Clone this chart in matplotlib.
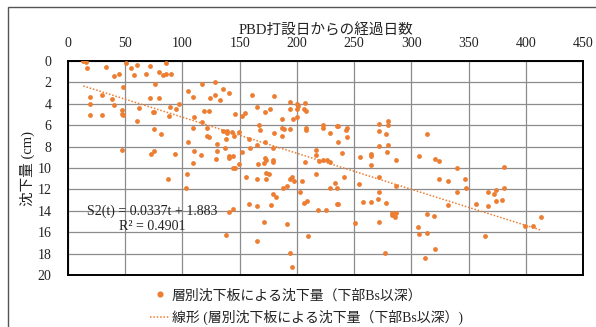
import matplotlib
matplotlib.use("Agg")
import matplotlib.pyplot as plt
from matplotlib.lines import Line2D
from matplotlib.patches import Rectangle
from matplotlib.font_manager import FontProperties

# 経過日数 (日) と 沈下量 (cm)
days = [
    13.4, 15.7, 16.3, 32.8, 40.1, 44.2, 50.9, 54.9, 59.9, 58.1, 68.0, 71.8, 79.9, 83.1,
    86.0, 90.1, 85.8, 48.0, 76.2, 19.2, 29.9, 38.7, 40.1, 19.2, 19.2, 29.9, 46.8, 46.8,
    48.3, 59.9, 61.9, 71.8, 79.9, 74.1, 75.0, 89.0, 88.1, 94.8, 97.1, 75.0, 81.1, 46.8,
    75.0, 72.1, 93.9, 104.9, 109.0, 116.9, 128.8, 135.8, 141.0, 123.8, 128.8, 132.9,
    110.0, 118.9, 123.0, 116.9, 145.9, 109.0, 121.8, 121.5, 123.0, 135.8, 139.0, 139.0,
    143.6, 145.0, 137.8, 149.1, 104.9, 109.9, 116.0, 129.9, 129.9, 136.9, 141.0, 141.0,
    144.5, 129.0, 109.0, 144.2, 146.2, 149.1,
    160.8, 179.7, 151.7, 154.9, 164.8, 171.8, 176.7, 193.9, 199.7, 200.9, 200.3, 193.6,
    207.0, 205.8, 207.8, 186.9, 196.8, 200.3, 166.9, 168.1, 186.9, 188.4, 193.9, 207.8,
    207.8, 179.9, 186.9, 157.8, 164.8, 159.0, 171.8, 178.8, 151.7, 165.7, 171.0, 171.8,
    173.0, 178.8, 178.8, 222.7, 222.7, 228.8, 234.9, 235.8, 243.9, 242.8, 243.7, 236.0,
    216.9, 216.9, 207.0, 218.9, 223.0, 225.9, 228.8, 239.8, 271.8, 279.6, 279.6, 271.8,
    277.6, 271.8, 279.6, 278.7, 254.9, 264.8, 264.8, 286.6, 264.8,
    314.0, 307.0, 320.9, 324.1, 340.1, 380.8,
    103.8, 87.8, 102.9, 141.0, 143.9, 137.8,
    155.8, 164.8, 173.0, 172.7, 175.9, 193.9, 195.9, 197.1, 191.0, 187.8, 204.9, 216.9,
    241.0, 233.7, 234.9, 228.8, 254.7, 271.8, 286.6, 202.6, 178.8, 181.7, 157.8, 164.8,
    177.6, 205.8, 208.7, 218.6, 225.6, 234.9, 235.8, 271.8, 270.6, 264.8, 257.9, 277.6,
    282.8, 282.8, 286.3, 285.8, 250.9, 271.8, 170.9, 191.0, 209.6, 164.8, 193.9, 276.7,
    195.9,
    324.1, 332.0, 346.8, 340.1, 348.0, 332.0, 356.1, 366.9, 372.1, 373.8, 380.8, 373.8,
    378.8, 366.9, 314.0, 320.1, 306.1, 307.0, 314.0, 320.9, 311.9, 364.0, 399.1, 406.1,
    413.0,
]
settle = [
    0.00, 0.06, 0.69, 0.59, 1.40, 1.18, 0.19, 0.69, 0.40, 1.28, 1.18, 0.50, 1.06, 1.34,
    1.25, 1.18, 0.19, 2.40, 2.18, 3.40, 3.18, 3.55, 4.08, 3.99, 5.08, 5.08, 4.58, 4.95,
    5.08, 5.58, 4.39, 3.49, 3.49, 4.80, 4.80, 4.27, 5.17, 4.49, 3.99, 6.39, 6.79, 8.29,
    8.38, 8.69, 8.69, 2.77, 3.40, 2.12, 1.99, 2.59, 2.99, 3.49, 3.18, 3.68,
    5.20, 4.70, 4.70, 5.67, 4.98, 6.29, 6.29, 6.98, 7.07, 6.54, 6.54, 6.73,
    6.64, 7.00, 7.29, 6.60, 7.60, 8.41, 8.78, 7.79, 8.41, 8.10, 8.85, 9.10,
    8.85, 9.19, 9.56, 10.03, 10.03, 9.66,
    3.18, 3.30, 5.11, 4.89, 4.30, 4.80, 4.49, 3.80, 4.05, 4.17, 4.49, 4.49,
    3.89, 4.52, 4.70, 5.39, 5.39, 5.26, 5.98, 6.48, 6.26, 6.36, 6.39, 6.29,
    6.42, 6.70, 6.98, 7.29, 7.85, 8.10, 7.60, 8.16, 8.47, 9.66, 9.56, 9.10,
    9.22, 9.25, 9.41, 5.98, 6.26, 6.70, 6.11, 6.11, 6.26, 6.48, 7.07, 7.60,
    8.29, 8.79, 9.47, 9.38, 9.28, 9.22, 9.41, 8.60, 5.89, 5.58, 6.01, 6.57,
    6.79, 7.98, 7.88, 8.50, 9.00, 8.69, 8.91, 9.28, 9.69,
    6.79, 8.88, 9.19, 9.38, 10.00, 9.90,
    10.59, 11.06, 11.87, 14.11, 13.80, 16.29,
    10.81, 11.00, 11.00, 10.50, 10.59, 11.00, 10.87, 11.18, 11.68, 11.90, 11.18, 10.59,
    10.87, 11.40, 11.90, 11.90, 11.50, 10.87, 11.65, 12.27, 12.40, 12.68, 13.36, 13.58,
    13.49, 13.30, 13.08, 13.89, 13.89, 13.36, 13.36, 12.27, 12.90, 13.18, 13.18, 13.30,
    14.24, 14.39, 14.17, 14.61, 15.17, 15.08, 15.08, 15.26, 16.39, 16.85, 17.98, 17.98,
    19.28,
    11.00, 11.18, 11.00, 12.27, 11.90, 13.46, 13.36, 12.21, 12.40, 12.09, 11.90, 13.08,
    12.99, 13.58, 14.27, 14.49, 15.48, 16.17, 16.07, 17.57, 18.38, 16.39, 15.39, 15.39,
    14.58,
]

slope = 0.0337
intercept = 1.883
x_ticks = [0, 50, 100, 150, 200, 250, 300, 350, 400, 450]
y_ticks = [0, 2, 4, 6, 8, 10, 12, 14, 16, 18, 20]

orange = "#ED7D31"
W, H = 596, 327
serif_jp = ["Liberation Serif", "Noto Sans CJK JP"]

fig = plt.figure(figsize=(W / 100, H / 100), dpi=100)
ax = fig.add_axes([68 / W, 1 - 275 / H, 515 / W, 214 / H])

ax.scatter(days, settle, s=12, color=orange, linewidths=0, zorder=3)
t0, t1 = min(days), max(days)
ax.plot([t0, t1], [slope * t0 + intercept, slope * t1 + intercept],
        linestyle=(0, (1, 1.2)), color=orange, lw=1.1, zorder=2)

ax.set_xlim(0, 450)
ax.set_ylim(20, 0)
ax.set_xticks(x_ticks)
ax.set_yticks(y_ticks)
ax.xaxis.tick_top()
ax.tick_params(length=0, labelsize=10, labelcolor="#222222")
ax.tick_params(axis="x", pad=8)
ax.tick_params(axis="y", pad=12)
for lbl in ax.get_xticklabels() + ax.get_yticklabels():
    lbl.set_fontfamily("Liberation Serif")
ax.grid(True, color="#8c8c8c", lw=0.9)
ax.set_axisbelow(True)
for sp in ax.spines.values():
    sp.set_linewidth(1.4)
    sp.set_color("black")

fig.text(325.5 / W, 1 - 31 / H, "PBD打設日からの経過日数", family=serif_jp,
         fontsize=10.5, ha="center", va="center", color="#222222")
fig.text(27 / W, 1 - 168 / H, "沈下量 (cm)", family=serif_jp, fontsize=10.5,
         rotation=90, ha="center", va="center", color="#222222")

fig.text(152 / W, 1 - 211 / H, "S2(t) = 0.0337t + 1.883", family="Liberation Serif",
         fontsize=10, ha="center", va="center", color="#222222")
fig.text(152.5 / W, 1 - 227 / H, "R² = 0.4901", family="Liberation Serif",
         fontsize=10, ha="center", va="center", color="#222222")

handles = [
    Line2D([], [], marker="o", markersize=3.4, color=orange, linestyle="none"),
    Line2D([], [], linestyle=(0, (1, 1.2)), color=orange, lw=1.1),
]
labels = ["層別沈下板による沈下量（下部Bs以深）",
          "線形 (層別沈下板による沈下量（下部Bs以深）)"]
fig.legend(handles, labels, loc="upper left", bbox_to_anchor=(150 / W, 1 - 289 / H),
           frameon=False, borderpad=0, borderaxespad=0, handlelength=1.45,
           handletextpad=0.1, labelspacing=0.55,
           prop=FontProperties(family=serif_jp, size=10), labelcolor="#222222")

fig.patches.append(Rectangle((8 / W, -0.05), 1.0, 1 - 7 / H + 0.05,
                             transform=fig.transFigure, fill=False,
                             edgecolor="#555555", lw=1.0))

fig.savefig("out.png", dpi=100)
